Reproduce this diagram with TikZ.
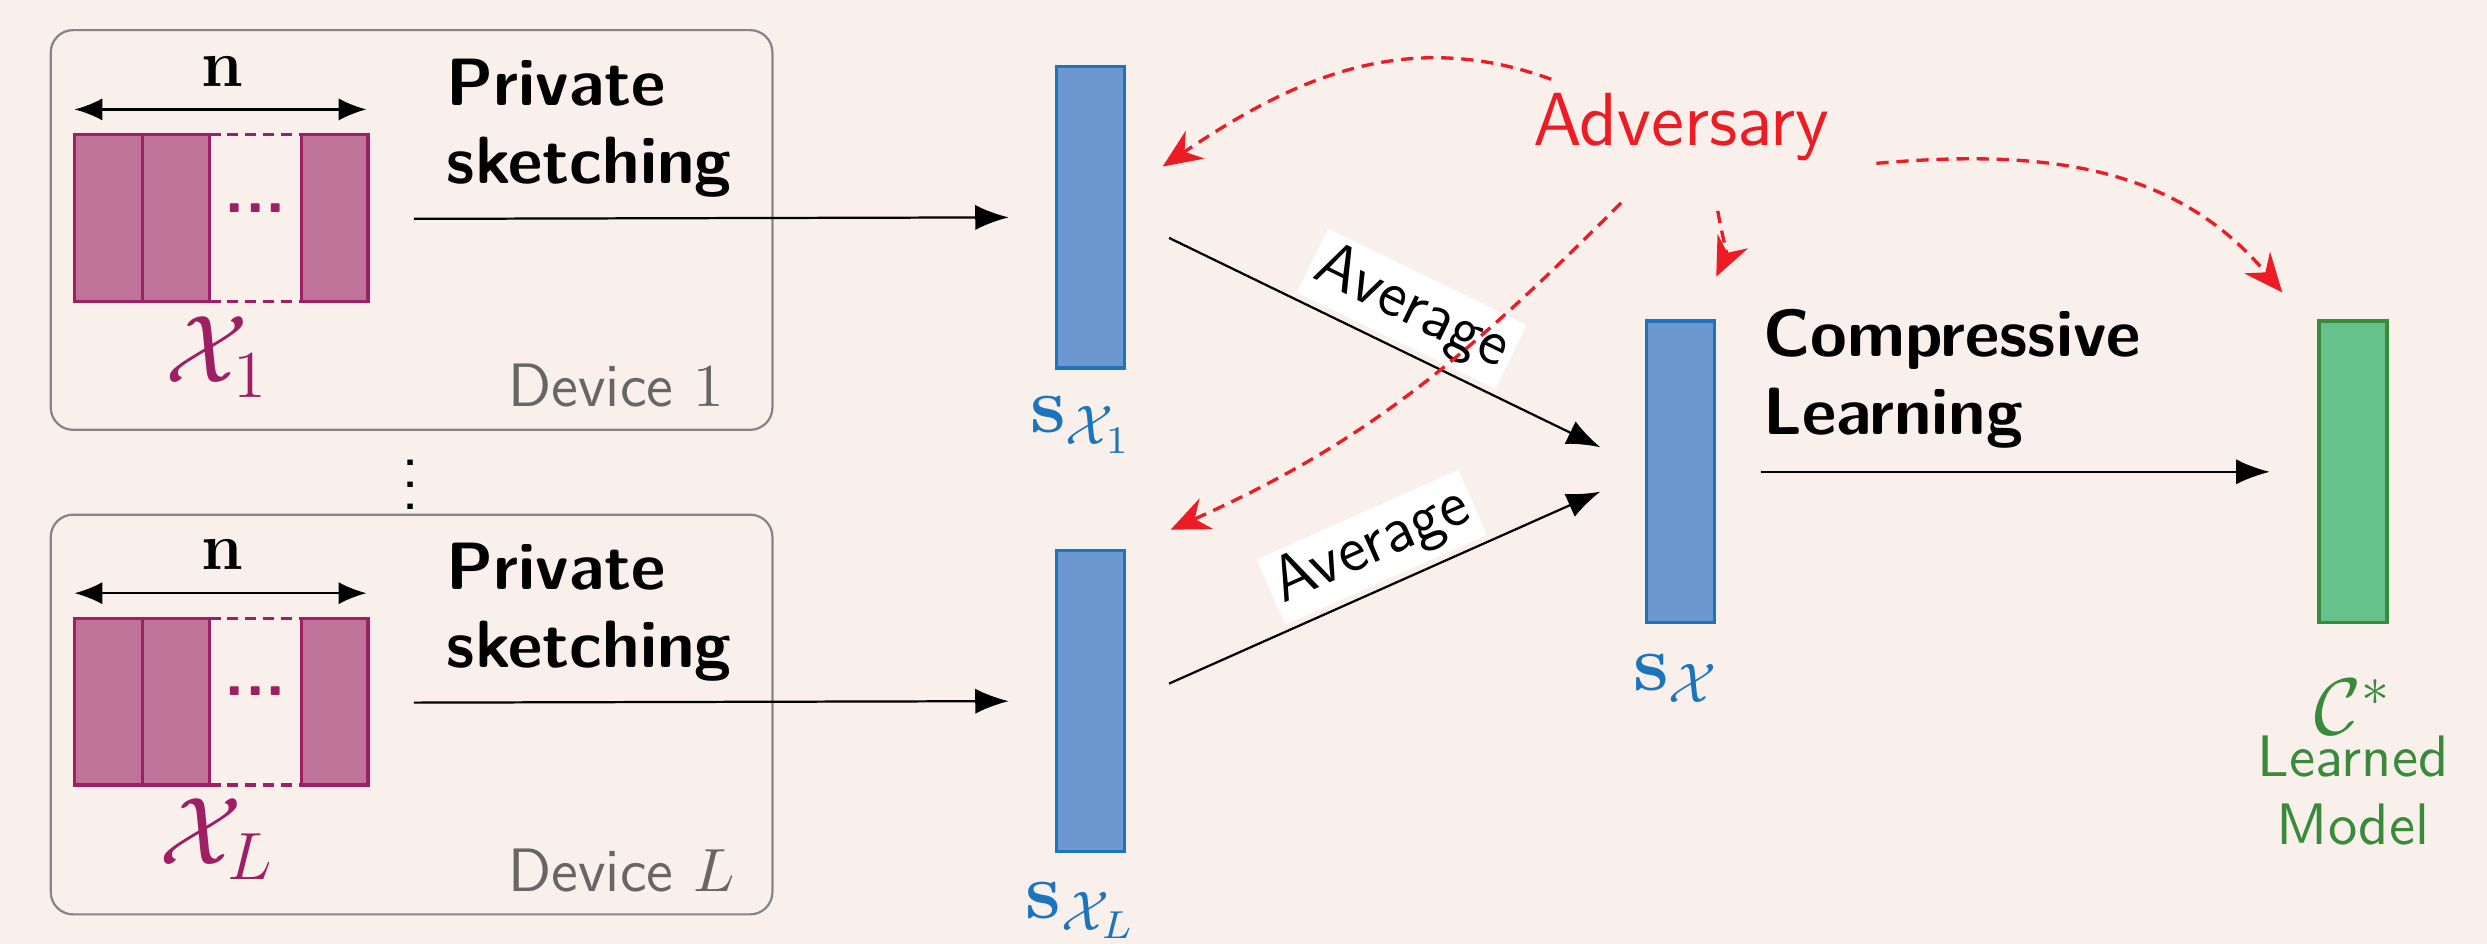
\documentclass[tikz,border=0pt]{standalone}
\usepackage{tikz}
\usetikzlibrary{arrows.meta,positioning}
\usepackage{amsmath,amssymb}
\renewcommand{\familydefault}{\sfdefault}
\definecolor{bgc}{HTML}{F9F0EB}
\definecolor{data}{HTML}{9E1F63}
\definecolor{datafill}{HTML}{C07399}
\definecolor{sketch}{HTML}{1C75BC}
\definecolor{sketchfill}{HTML}{6D98CF}
\definecolor{model}{HTML}{3A8A3C}
\definecolor{modelfill}{HTML}{64C28A}
\definecolor{adv}{HTML}{ED1C24}
\definecolor{device}{HTML}{666666}

\begin{document}
\begin{tikzpicture}[
  devbox/.style={draw=device!80,thin,rounded corners=4pt,minimum width=4.55cm,minimum height=2.52cm},
  vec/.style={draw=sketch,fill=sketchfill,semithick,minimum width=0.43cm,minimum height=1.9cm,inner sep=0pt},
  mdl/.style={draw=model,fill=modelfill,semithick,minimum width=0.43cm,minimum height=1.9cm,inner sep=0pt},
  col/.style={draw=data,fill=datafill,semithick},
  gap/.style={draw=data,semithick,dash pattern=on 2pt off 1.2pt},
  stagetxt/.style={font=\large\bfseries,align=left,anchor=west,inner sep=0pt},
  arr/.style={-{Latex[length=6pt,width=4.5pt]}},
  dim/.style={{Latex[length=5pt,width=4pt]}-{Latex[length=5pt,width=4pt]}},
  spy/.style={adv,semithick,dash pattern=on 2.2pt off 1.4pt,-{Stealth[length=7pt,width=6pt]}},
  avg/.style={font=\fontsize{11.5}{13}\selectfont,fill=white,inner sep=1.2pt,sloped,above=1pt},
]
  \path[use as bounding box,fill=bgc] (0,0) rectangle (15.68,5.95);

  % Device 1
  \node[devbox] (dev1) at (2.595,4.50) {};
  \node (n1) at (1.40,5.50) {\large$\mathbf{n}$};
  \draw[dim] (0.47,5.26) -- (2.31,5.26);
  \filldraw[col] (0.47,4.05) rectangle (0.90,5.10);
  \filldraw[col] (0.90,4.05) rectangle (1.32,5.10);
  \filldraw[col] (1.90,4.05) rectangle (2.32,5.10);
  \draw[gap] (1.32,5.10) -- (1.90,5.10) (1.32,4.05) -- (1.90,4.05);
  \node[data,font=\large\bfseries,inner sep=0pt] (dots1) at (1.61,4.64) {...};
  \node[data] (x1) at (1.37,3.70) {\LARGE$\mathcal{X}_1$};
  \node[device,anchor=west,inner sep=0pt,font=\fontsize{11}{13}\selectfont] (d1) at (3.20,3.52) {Device $1$};
  \node[stagetxt] (ps1) at (2.81,5.14) {Private\\sketching};
  \coordinate (o1) at (2.61,4.57);

  \node[inner sep=0pt] (vd) at (2.59,3.00) {\large$\vdots$};

  % Device L
  \node[devbox] (devL) at (2.595,1.445) {};
  \node (nL) at (1.40,2.45) {\large$\mathbf{n}$};
  \draw[dim] (0.47,2.21) -- (2.31,2.21);
  \filldraw[col] (0.47,1.00) rectangle (0.90,2.05);
  \filldraw[col] (0.90,1.00) rectangle (1.32,2.05);
  \filldraw[col] (1.90,1.00) rectangle (2.32,2.05);
  \draw[gap] (1.32,2.05) -- (1.90,2.05) (1.32,1.00) -- (1.90,1.00);
  \node[data,font=\large\bfseries,inner sep=0pt] (dotsL) at (1.61,1.59) {...};
  \node[data] (xL) at (1.37,0.66) {\LARGE$\mathcal{X}_L$};
  \node[device,anchor=west,inner sep=0pt,font=\fontsize{11}{13}\selectfont] (dL) at (3.20,0.46) {Device $L$};
  \node[stagetxt] (psL) at (2.81,2.09) {Private\\sketching};
  \coordinate (oL) at (2.61,1.52);

  % Sketches
  \node[vec] (s1) at (6.875,4.58) {};
  \node[sketch] (ls1) at (6.82,3.27) {\Large$\mathbf{s}_{\mathcal{X}_1}$};
  \node[vec] (sL) at (6.875,1.53) {};
  \node[sketch] (lsL) at (6.82,0.21) {\Large$\mathbf{s}_{\mathcal{X}_L}$};
  \draw[arr,shorten >=2.9mm] (o1) -- (s1.west);
  \draw[arr,shorten >=2.9mm] (oL) -- (sL.west);

  % Average
  \node[vec] (sX) at (10.595,2.975) {};
  \node[sketch] (lsX) at (10.57,1.67) {\Large$\mathbf{s}_{\mathcal{X}}$};
  \draw[arr] ([xshift=2.7mm,yshift=-1.3mm]s1.east) -- node[avg,pos=0.52] {Average} ([xshift=-2.8mm,yshift=1.55mm]sX.west);
  \draw[arr] ([xshift=2.7mm,yshift=1.1mm]sL.east) -- node[avg,pos=0.51] {Average} ([xshift=-2.8mm,yshift=-1.25mm]sX.west);

  % Compressive learning
  \node[mdl] (cs) at (14.835,2.975) {};
  \node[stagetxt] (cl) at (11.11,3.56) {Compressive\\Learning};
  \draw[arr] ([xshift=2.8mm]sX.east) -- ([xshift=-3mm]cs.west);
  \node[model] (lcs) at (14.835,1.49) {\Large$\mathcal{C}^*$};
  \node[model,align=center,font=\fontsize{10.5}{12.2}\selectfont] (lm) at (14.835,0.965) {Learned\\Model};

  % Adversary
  \node[adv,font=\fontsize{13.5}{16}\selectfont] (adv) at (10.60,5.15) {Adversary};
  \draw[spy] ([shift={(-0.82,0.30)}]adv.center) to[out=160,in=34] ([xshift=2.3mm,yshift=3.2mm]s1.east);
  \draw[spy] ([shift={(-0.38,-0.48)}]adv.center) to[out=225,in=24] ([xshift=2.8mm,yshift=1.2mm]sL.north east);
  \draw[spy] ([shift={(0.23,-0.53)}]adv.center) to[out=-80,in=65] ([yshift=2.7mm]sX.north east);
  \draw[spy] ([shift={(1.23,-0.23)}]adv.center) to[out=5,in=130] ([xshift=-2.2mm,yshift=1.7mm]cs.north west);
\end{tikzpicture}
\end{document}
